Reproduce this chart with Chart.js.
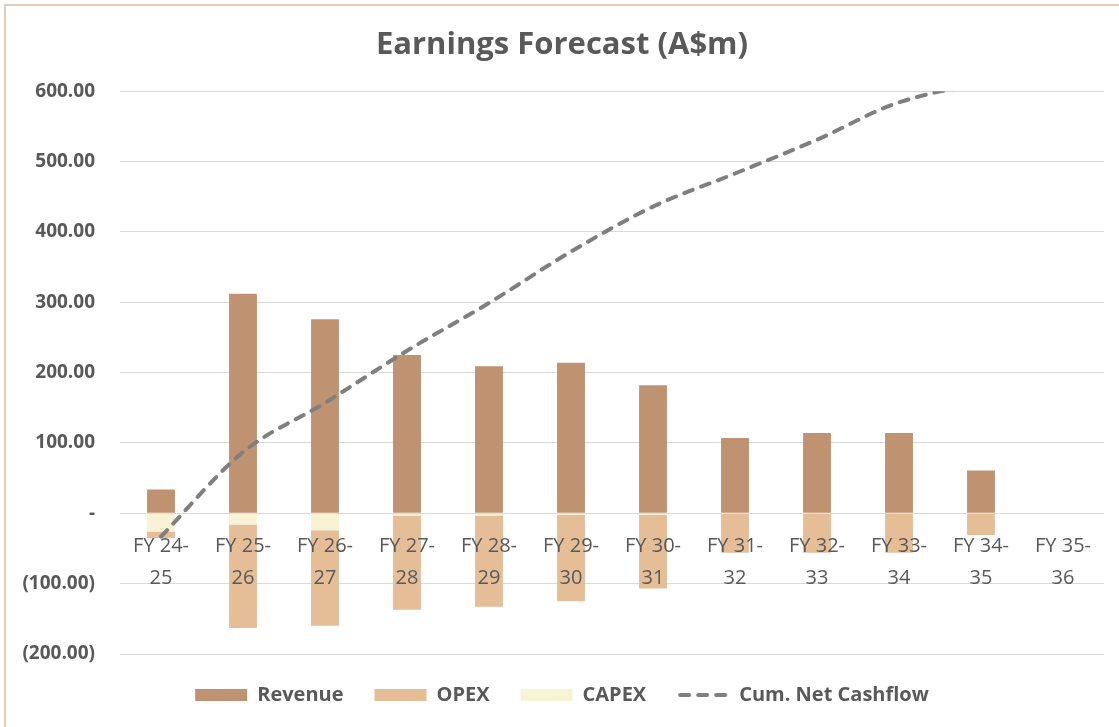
<!DOCTYPE html>
<html>
<head>
<meta charset="utf-8">
<script src="https://cdn.jsdelivr.net/npm/chart.js@4/dist/chart.umd.min.js"></script>
<style>
  html, body { margin: 0; padding: 0; background: #fff; overflow: hidden; }
  #frame { position: absolute; left: 4px; top: 4px; width: 1300px; height: 900px; border: 2px solid #e8cdb4; }
  #wrap { position: absolute; left: 0; top: 0; width: 1119px; height: 727px; }
</style>
</head>
<body>
<div id="frame"></div>
<div id="wrap"><canvas id="earnings-chart"></canvas></div>
<script>
// values (A$m)
const categories = [
    ['FY 24-', '25'], ['FY 25-', '26'], ['FY 26-', '27'], ['FY 27-', '28'],
    ['FY 28-', '29'], ['FY 29-', '30'], ['FY 30-', '31'], ['FY 31-', '32'],
    ['FY 32-', '33'], ['FY 33-', '34'], ['FY 34-', '35'], ['FY 35-', '36']
];
const revenue = [34, 312, 276, 225, 209, 214, 182, 107, 114, 114, 61, 0];
const capex = [-26, -16, -24, -3, -3, -2, -2, -1, -1, -1, -1, 0];
const opex = [-9, -147, -136, -134, -130, -123, -105, -55, -55, -55, -30, 0];
const cumNetCashflow = [-33, 87, 157, 231, 299, 372, 436, 483, 531, 584, 606, 606];
const legendOrder = ['Revenue', 'OPEX', 'CAPEX', 'Cum. Net Cashflow'];

const textColor = '#595959';
const lineColor = '#7f7f7f';
Chart.defaults.font.family = "'Open Sans', sans-serif";
Chart.defaults.color = textColor;

// dashed swatch for the legend (pointStyle path ignores borderDash)
const dashSwatch = document.createElement('canvas');
dashSwatch.width = 52;
dashSwatch.height = 8;
const sw = dashSwatch.getContext('2d');
sw.strokeStyle = lineColor;
sw.lineWidth = 4;
sw.lineCap = 'round';
sw.setLineDash([9, 9]);
sw.beginPath();
sw.moveTo(3, 4);
sw.lineTo(50, 4);
sw.stroke();

const data = {
    labels: categories,
    datasets: [
        {
            type: 'line',
            label: 'Cum. Net Cashflow',
            data: cumNetCashflow,
            borderColor: lineColor,
            backgroundColor: lineColor,
            borderWidth: 4,
            borderDash: [9, 9],
            borderCapStyle: 'round',
            pointRadius: 0,
            cubicInterpolationMode: 'monotone',
            stack: 'cum',
            order: 0,
            clip: 0,
        },
        { label: 'Revenue', data: revenue, backgroundColor: '#bf9371', stack: 'bars', order: 1 },
        { label: 'CAPEX', data: capex, backgroundColor: '#f8f3d5', stack: 'bars', order: 1 },
        { label: 'OPEX', data: opex, backgroundColor: '#e5be98', stack: 'bars', order: 1 },
    ],
};

const ctx = document.getElementById('earnings-chart').getContext('2d');

new Chart(ctx, {
    type: 'bar',
    data: data,
    options: {
        responsive: true,
        maintainAspectRatio: false,
        animation: false,
        layout: { padding: { left: 20, right: 15, top: 5, bottom: 12 } },
        datasets: { bar: { barPercentage: 0.34, categoryPercentage: 1, borderWidth: 0 } },
        scales: {
            x: {
                stacked: true,
                position: { y: 0 },
                grid: { display: false, drawTicks: false },
                border: { display: false },
                ticks: {
                    z: 1,
                    color: textColor,
                    font: { size: 20, lineHeight: 1.6 },
                    padding: 17,
                    autoSkip: false,
                    maxRotation: 0,
                },
            },
            y: {
                stacked: true,
                min: -200,
                max: 600,
                grid: { color: '#d9d9d9', lineWidth: 1, drawTicks: false },
                border: { display: false },
                afterFit: (scale) => { scale.width = 100; },
                ticks: {
                    stepSize: 100,
                    padding: 25,
                    color: textColor,
                    font: { size: 19, weight: 'bold' },
                    callback: (v) => {
                        if (v === 0) return '-';
                        const s = Math.abs(v).toFixed(2);
                        return v < 0 ? '(' + s + ')' : s;
                    },
                },
            },
        },
        plugins: {
            title: {
                display: true,
                text: 'Earnings Forecast (A$m)',
                color: textColor,
                font: { size: 31, weight: 'bold' },
                padding: { top: 22, bottom: 27 },
            },
            legend: {
                position: 'bottom',
                labels: {
                    usePointStyle: true,
                    pointStyleWidth: 52,
                    boxHeight: 12,
                    padding: 31,
                    color: textColor,
                    font: { size: 20, weight: 'bold' },
                    generateLabels: (chart) => {
                        const items = Chart.defaults.plugins.legend.labels.generateLabels(chart);
                        items.forEach((it) => {
                            it.pointStyle = chart.data.datasets[it.datasetIndex].type === 'line' ? dashSwatch : 'rect';
                        });
                        return items;
                    },
                    sort: (a, b) => legendOrder.indexOf(a.text) - legendOrder.indexOf(b.text),
                },
            },
            tooltip: { enabled: false },
        },
    },
});
</script>
</body>
</html>
